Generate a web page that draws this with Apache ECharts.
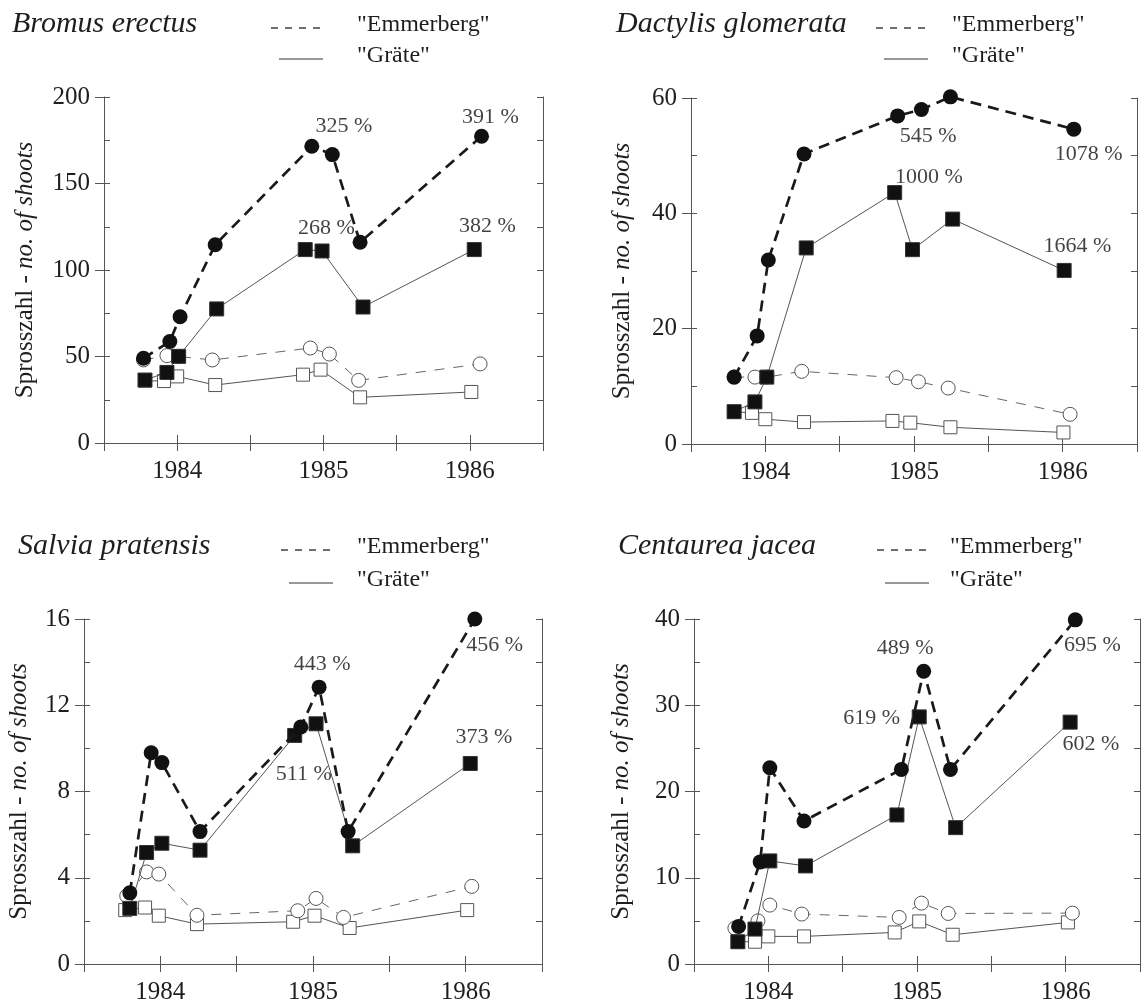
<!DOCTYPE html>
<html>
<head>
<meta charset="utf-8">
<script src="https://cdn.jsdelivr.net/npm/echarts@6/dist/echarts.min.js"></script>
<style>
html,body{margin:0;padding:0;background:#fff;}
#chart{width:1146px;height:1005px;}
</style>
</head>
<body>
<div id="chart"></div>
<script>
// ---------- DATA ----------
const speciesNames = ["Bromus erectus", "Dactylis glomerata", "Salvia pratensis", "Centaurea jacea"];
const siteNames = ['"Emmerberg"', '"Gräte"'];
const yearTicks = [1984, 1985, 1986];
const yMax = [200, 60, 16, 40];
const yStep = [50, 20, 4, 10];

// Bromus erectus
const bromusEmmTreatX = [1983.77, 1983.95, 1984.02, 1984.26, 1984.92, 1985.06, 1985.25, 1986.08];
const bromusEmmTreatY = [49, 58.7, 73, 114.6, 171.5, 166.7, 116, 177.3];
const bromusGraTreatX = [1983.78, 1983.93, 1984.01, 1984.27, 1984.875, 1984.99, 1985.27, 1986.03];
const bromusGraTreatY = [36.4, 40.8, 50.1, 77.5, 111.8, 111, 78.6, 111.8];
const bromusEmmCtrlX = [1983.77, 1983.93, 1984.01, 1984.24, 1984.91, 1985.04, 1985.24, 1986.07];
const bromusEmmCtrlY = [48, 50.5, 50, 48, 54.9, 51.4, 36.2, 45.7];
const bromusGraCtrlX = [1983.78, 1983.91, 1984.0, 1984.26, 1984.86, 1984.98, 1985.25, 1986.01];
const bromusGraCtrlY = [36, 35.8, 38.5, 33.5, 39.5, 42.4, 26.4, 29.5];
const bromusNotes = [["325 %", 1985.14, 183], ["391 %", 1986.14, 188.4], ["268 %", 1985.02, 124.3], ["382 %", 1986.12, 125.2]];

// Dactylis glomerata
const dactylisEmmTreatX = [1983.79, 1983.945, 1984.02, 1984.26, 1984.89, 1985.05, 1985.245, 1986.075];
const dactylisEmmTreatY = [11.6, 18.75, 31.9, 50.3, 56.9, 58, 60.2, 54.6];
const dactylisGraTreatX = [1983.79, 1983.93, 1984.01, 1984.275, 1984.87, 1984.99, 1985.26, 1986.01];
const dactylisGraTreatY = [5.6, 7.3, 11.6, 34.0, 43.6, 33.7, 39.0, 30.1];
const dactylisEmmCtrlX = [1983.79, 1983.93, 1984.01, 1984.245, 1984.88, 1985.03, 1985.23, 1986.05];
const dactylisEmmCtrlY = [11.6, 11.6, 11.6, 12.6, 11.5, 10.8, 9.7, 5.15];
const dactylisGraCtrlX = [1983.79, 1983.91, 1984.0, 1984.26, 1984.855, 1984.975, 1985.245, 1986.005];
const dactylisGraCtrlY = [5.6, 5.4, 4.3, 3.8, 4.0, 3.7, 2.9, 2.0];
const dactylisNotes = [["545 %", 1985.095, 53.4], ["1078 %", 1986.175, 50.2], ["1000 %", 1985.1, 46.3], ["1664 %", 1986.1, 34.3]];

// Salvia pratensis
const salviaEmmTreatX = [1983.80, 1983.94, 1984.01, 1984.26, 1984.92, 1985.04, 1985.23, 1986.06];
const salviaEmmTreatY = [3.3, 9.8, 9.34, 6.14, 10.99, 12.84, 6.14, 16.0];
const salviaGraTreatX = [1983.80, 1983.91, 1984.01, 1984.26, 1984.88, 1985.02, 1985.26, 1986.03];
const salviaGraTreatY = [2.58, 5.17, 5.6, 5.28, 10.6, 11.14, 5.48, 9.3];
const salviaEmmCtrlX = [1983.78, 1983.91, 1983.99, 1984.24, 1984.90, 1985.02, 1985.20, 1986.04];
const salviaEmmCtrlY = [3.16, 4.27, 4.17, 2.26, 2.47, 3.04, 2.16, 3.6];
const salviaGraCtrlX = [1983.77, 1983.90, 1983.99, 1984.24, 1984.87, 1985.01, 1985.24, 1986.01];
const salviaGraCtrlY = [2.5, 2.62, 2.24, 1.85, 1.96, 2.24, 1.67, 2.5];
const salviaNotes = [["443 %", 1985.06, 13.9], ["456 %", 1986.19, 14.8], ["511 %", 1984.94, 8.8], ["373 %", 1986.12, 10.5]];

// Centaurea jacea
const centaureaEmmTreatX = [1983.80, 1983.945, 1984.01, 1984.24, 1984.895, 1985.045, 1985.225, 1986.065];
const centaureaEmmTreatY = [4.36, 11.84, 22.75, 16.58, 22.56, 33.94, 22.56, 39.9];
const centaureaGraTreatX = [1983.795, 1983.91, 1984.01, 1984.25, 1984.865, 1985.015, 1985.26, 1986.03];
const centaureaGraTreatY = [2.58, 4.05, 11.95, 11.37, 17.28, 28.65, 15.81, 28.04];
const centaureaEmmCtrlX = [1983.775, 1983.93, 1984.01, 1984.225, 1984.88, 1985.03, 1985.21, 1986.045];
const centaureaEmmCtrlY = [4.16, 5.0, 6.83, 5.79, 5.4, 7.06, 5.86, 5.9];
const centaureaGraCtrlX = [1983.795, 1983.91, 1984.0, 1984.24, 1984.85, 1985.015, 1985.24, 1986.015];
const centaureaGraCtrlY = [2.58, 2.58, 3.2, 3.2, 3.66, 4.94, 3.39, 4.82];
const centaureaNotes = [["489 %", 1984.92, 36.6], ["695 %", 1986.18, 37.0], ["619 %", 1984.695, 28.5], ["602 %", 1986.17, 25.5]];

// ---------- LAYOUT / STYLE ----------
const FONT = "'Liberation Serif', 'DejaVu Serif', serif";
const TXT = '#1e1e1e';
const AX = '#555';
const panels = [
  {eT:[bromusEmmTreatX,bromusEmmTreatY], gT:[bromusGraTreatX,bromusGraTreatY], eC:[bromusEmmCtrlX,bromusEmmCtrlY], gC:[bromusGraCtrlX,bromusGraCtrlY], notes:bromusNotes,
   grid:{left:104, top:97, width:439, height:346}, nameGap:66, head:{tx:12, ty:25, lx:271, tx2:357, r1:26, r2:57}},
  {eT:[dactylisEmmTreatX,dactylisEmmTreatY], gT:[dactylisGraTreatX,dactylisGraTreatY], eC:[dactylisEmmCtrlX,dactylisEmmCtrlY], gC:[dactylisGraCtrlX,dactylisGraCtrlY], notes:dactylisNotes,
   grid:{left:691, top:98, width:446, height:346}, nameGap:56, head:{tx:616, ty:25, lx:876, tx2:952, r1:26, r2:57}},
  {eT:[salviaEmmTreatX,salviaEmmTreatY], gT:[salviaGraTreatX,salviaGraTreatY], eC:[salviaEmmCtrlX,salviaEmmCtrlY], gC:[salviaGraCtrlX,salviaGraCtrlY], notes:salviaNotes,
   grid:{left:84, top:619, width:458, height:346}, nameGap:52, head:{tx:18, ty:547, lx:281, tx2:357, r1:548, r2:581}},
  {eT:[centaureaEmmTreatX,centaureaEmmTreatY], gT:[centaureaGraTreatX,centaureaGraTreatY], eC:[centaureaEmmCtrlX,centaureaEmmCtrlY], gC:[centaureaGraCtrlX,centaureaGraCtrlY], notes:centaureaNotes,
   grid:{left:694, top:619, width:446, height:346}, nameGap:60, head:{tx:618, ty:547, lx:877, tx2:950, r1:548, r2:581}}
];

const zip = (xs, ys) => xs.map((x, i) => [x, ys[i]]);

const grids = [], xAxes = [], yAxes = [], series = [], graphics = [];
panels.forEach((p, i) => {
  grids.push(Object.assign({containLabel:false}, p.grid));
  const xBase = {type:'value', gridIndex:i, min:1983.5, max:1986.5, interval:0.5,
    splitLine:{show:false}, axisLine:{lineStyle:{color:AX, width:1}}};
  xAxes.push(Object.assign({}, xBase, {position:'bottom',
    axisTick:{length:8, lineStyle:{color:AX}},
    axisLabel:{margin:16, fontSize:25, fontFamily:FONT, color:TXT,
      formatter: v => (yearTicks.indexOf(v) >= 0 ? String(v) : '')}}));
  xAxes.push(Object.assign({}, xBase, {position:'top',
    axisTick:{length:8, lineStyle:{color:AX}}, axisLabel:{show:false}}));
  const yBase = {type:'value', gridIndex:i, min:0, max:yMax[i], splitLine:{show:false}};
  yAxes.push(Object.assign({}, yBase, {position:'left', interval:yStep[i],
    axisLine:{show:true, lineStyle:{color:AX}},
    axisTick:{length:9, lineStyle:{color:AX}},
    axisLabel:{margin:14, fontSize:25, fontFamily:FONT, color:TXT},
    name:'{a|Sprosszahl - }{b|no. of shoots}', nameLocation:'middle', nameGap:p.nameGap,
    nameTextStyle:{rich:{a:{fontSize:25, fontFamily:FONT, color:TXT}, b:{fontSize:25, fontFamily:FONT, fontStyle:'italic', color:TXT}}}}));
  yAxes.push(Object.assign({}, yBase, {position:'left', interval:yStep[i]/2,
    axisLine:{show:false}, axisTick:{inside:true, length:6, lineStyle:{color:AX}}, axisLabel:{show:false}}));
  yAxes.push(Object.assign({}, yBase, {position:'right', interval:yStep[i]/2,
    axisLine:{show:true, lineStyle:{color:AX}}, axisTick:{inside:true, length:6, lineStyle:{color:AX}}, axisLabel:{show:false}}));

  const common = {type:'line', xAxisIndex:2*i, yAxisIndex:3*i, animation:false, clip:false, symbolKeepAspect:true};
  series.push(Object.assign({}, common, {name:'Gräte control', data:zip(p.gC[0], p.gC[1]), z:2,
    symbol:'rect', symbolSize:13, itemStyle:{color:'#fff', borderColor:'#555', borderWidth:1},
    lineStyle:{color:'#555', width:1, type:'solid'}}));
  series.push(Object.assign({}, common, {name:'Emmerberg control', data:zip(p.eC[0], p.eC[1]), z:3,
    symbol:'circle', symbolSize:14, itemStyle:{color:'#fff', borderColor:'#555', borderWidth:1},
    lineStyle:{color:'#666', width:1, type:[10,9]}}));
  series.push(Object.assign({}, common, {name:'Gräte', data:zip(p.gT[0], p.gT[1]), z:4,
    symbol:'rect', symbolSize:14, itemStyle:{color:'#111', borderColor:'#333', borderWidth:1},
    lineStyle:{color:'#555', width:1, type:'solid'}}));
  series.push(Object.assign({}, common, {name:'Emmerberg', data:zip(p.eT[0], p.eT[1]), z:5,
    symbol:'circle', symbolSize:15, itemStyle:{color:'#111'},
    lineStyle:{color:'#1a1a1a', width:2.7, type:[11,7]}}));
  series.push({type:'scatter', xAxisIndex:2*i, yAxisIndex:3*i, animation:false, clip:false, z:6,
    data:p.notes.map(n => [n[1], n[2], n[0]]), symbolSize:1, itemStyle:{color:'rgba(0,0,0,0)'},
    label:{show:true, position:'inside', formatter: q => q.data[2], fontSize:22, fontFamily:FONT, color:'#111'}});

  const h = p.head;
  graphics.push({type:'text', left:h.tx, top:h.ty - 16, style:{text:speciesNames[i], font:"italic 30px " + FONT, fill:TXT}});
  graphics.push({type:'line', shape:{x1:h.lx, y1:h.r1 + 2, x2:h.lx + 52, y2:h.r1 + 2}, style:{stroke:'#333', lineWidth:1.4, lineDash:[7,7]}});
  graphics.push({type:'text', left:h.tx2, top:h.r1 - 13, style:{text:siteNames[0], font:"24px " + FONT, fill:TXT}});
  graphics.push({type:'line', shape:{x1:h.lx + 8, y1:h.r2 + 2, x2:h.lx + 52, y2:h.r2 + 2}, style:{stroke:'#333', lineWidth:1.2}});
  graphics.push({type:'text', left:h.tx2, top:h.r2 - 13, style:{text:siteNames[1], font:"24px " + FONT, fill:TXT}});
});

const chart = echarts.init(document.getElementById('chart'), null, {renderer:'canvas'});
chart.setOption({
  backgroundColor:'#fff',
  animation:false,
  grid:grids, xAxis:xAxes, yAxis:yAxes, series:series, graphic:graphics
});
</script>
</body>
</html>
